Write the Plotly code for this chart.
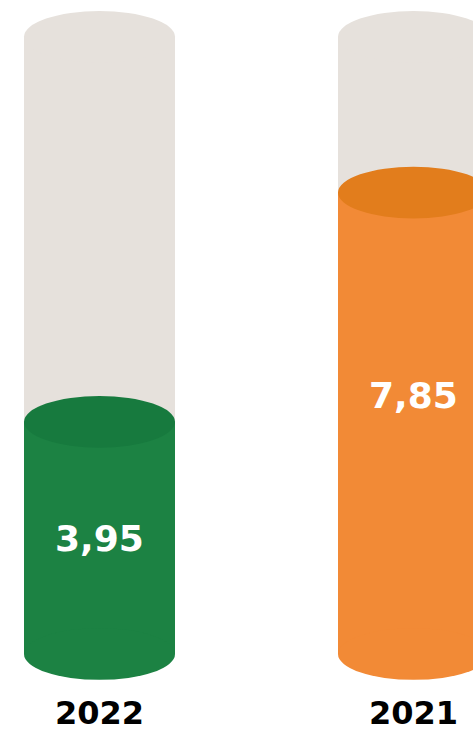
import plotly.graph_objects as go

# Data
years = ["2022", "2021"]
values = [3.95, 7.85]
track_max = 10.5

body_colors = ["#1C8243", "#F28A36"]
cap_colors = ["#177A3E", "#E27D1C"]
track_color = "#E6E1DC"

W, H = 473, 734
x_pos = [0, 1]
bar_w = 0.481
cap_h = 0.44          # half-height of the elliptical caps, in y units
label_y = [1.97, 4.39]
FONT = "'DejaVu Sans', Lato, sans-serif"

fig = go.Figure()

# background "tube" for each cylinder
fig.add_trace(go.Bar(
    x=x_pos, y=[track_max] * len(x_pos), width=bar_w,
    marker=dict(color=track_color, line=dict(width=0)),
    hoverinfo="skip", showlegend=False,
))
# value body
fig.add_trace(go.Bar(
    x=x_pos, y=values, width=bar_w,
    marker=dict(color=body_colors, line=dict(width=0)),
    hoverinfo="skip", showlegend=False,
))

shapes = []
for xp, v, bc, cc in zip(x_pos, values, body_colors, cap_colors):
    x0, x1 = xp - bar_w / 2, xp + bar_w / 2
    # top cap of the grey tube
    shapes.append(dict(type="circle", xref="x", yref="y", x0=x0, x1=x1,
                       y0=track_max - cap_h, y1=track_max + cap_h,
                       fillcolor=track_color, line=dict(width=0), layer="above"))
    # rounded bottom
    shapes.append(dict(type="circle", xref="x", yref="y", x0=x0, x1=x1,
                       y0=-cap_h, y1=cap_h,
                       fillcolor=bc, line=dict(width=0), layer="above"))
    # top cap of the filled part
    shapes.append(dict(type="circle", xref="x", yref="y", x0=x0, x1=x1,
                       y0=v - cap_h, y1=v + cap_h,
                       fillcolor=cc, line=dict(width=0), layer="above"))

annotations = []
for xp, v, ly in zip(x_pos, values, label_y):
    annotations.append(dict(
        x=xp, y=ly, xref="x", yref="y",
        text=f"{v:.2f}".replace(".", ","), showarrow=False,
        font=dict(family=FONT, size=36, color="white", weight=700),
    ))

fig.update_layout(
    width=W, height=H,
    margin=dict(l=0, r=0, t=0, b=43),
    paper_bgcolor="white", plot_bgcolor="white",
    barmode="overlay", bargap=0,
    shapes=shapes, annotations=annotations,
    xaxis=dict(range=[-0.3169, 1.1895], tickvals=x_pos, ticktext=years,
               showgrid=False, zeroline=False, showline=False, ticks="",
               ticklabelstandoff=0, automargin=False,
               tickfont=dict(family=FONT, size=32, color="black", weight=700),
               fixedrange=True),
    yaxis=dict(range=[-0.6295, 11.126], visible=False, showgrid=False,
               zeroline=False, fixedrange=True, automargin=False),
)

fig.write_html("out.html")
